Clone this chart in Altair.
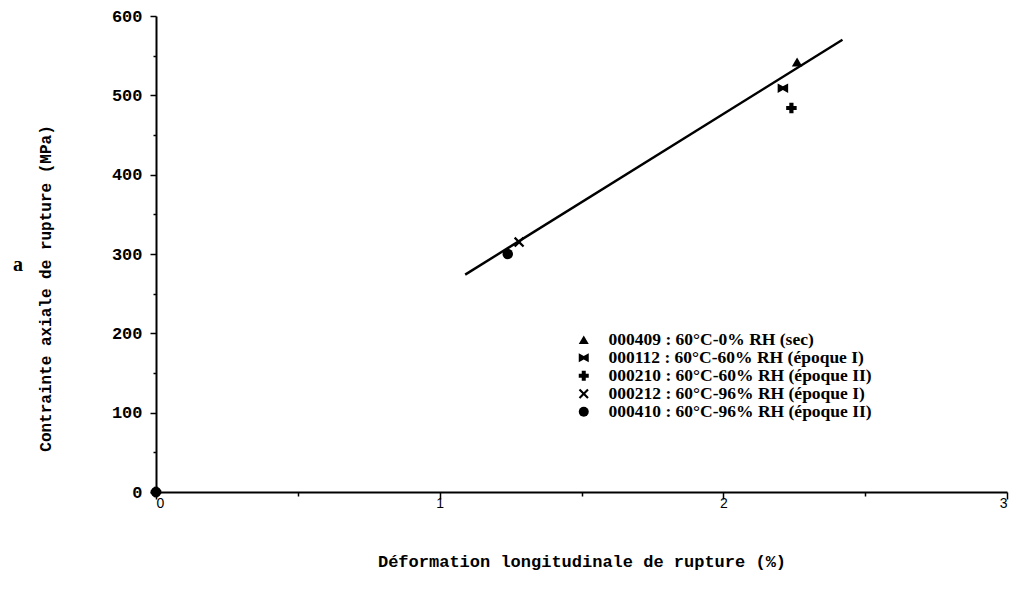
import altair as alt
import pandas as pd

# ---- data ----
series = [
    "000409 : 60°C-0% RH (sec)",
    "000112 : 60°C-60% RH (époque I)",
    "000210 : 60°C-60% RH (époque II)",
    "000212 : 60°C-96% RH (époque I)",
    "000410 : 60°C-96% RH (époque II)",
]
strain = [2.26, 2.21, 2.24, 1.28, 1.24]
stress = [542, 509, 484, 315, 300]

origin_series = ["000210 : 60°C-60% RH (époque II)", "000410 : 60°C-96% RH (époque II)"]
origin_strain = [0, 0]
origin_stress = [0, 0]

fit_strain = [1.09, 2.42]
fit_stress = [274, 570]

x_ticks = [0, 0.5, 1, 1.5, 2, 2.5, 3]
y_ticks = [0, 50, 100, 150, 200, 250, 300, 350, 400, 450, 500, 550, 600]

shapes = [
    "triangle-up",
    "M-1,-0.9L0,-0.35L1,-0.9L1,0.9L0,0.35L-1,0.9Z",
    "cross",
    "M-1,-0.7L-0.7,-1L0,-0.3L0.7,-1L1,-0.7L0.3,0L1,0.7L0.7,1L0,0.3L-0.7,1L-1,0.7L-0.3,0Z",
    "circle",
]

pts = pd.DataFrame({
    "series": series + origin_series,
    "strain": strain + origin_strain,
    "stress": stress + origin_stress,
})
fit = pd.DataFrame({"strain": fit_strain, "stress": fit_stress})

x_enc = alt.X(
    "strain:Q",
    scale=alt.Scale(domain=[0, 3], nice=False, zero=False),
    axis=alt.Axis(
        values=x_ticks,
        labelExpr="datum.value % 1 === 0 ? format(datum.value, 'd') : ''",
        tickSize={"condition": {"test": "datum.value % 1 !== 0", "value": 4}, "value": 7},
        labelFont="Liberation Sans",
        labelFontSize=14,
        labelPadding=-3,
        title="Déformation longitudinale de rupture (%)",
        titleFont="Liberation Mono",
        titleFontWeight="bold",
        titleFontSize=17,
        titlePadding=43,
    ),
)
y_enc = alt.Y(
    "stress:Q",
    scale=alt.Scale(domain=[0, 600], nice=False),
    axis=alt.Axis(
        values=y_ticks,
        labelExpr="datum.value % 100 === 0 ? datum.label : ''",
        tickSize={"condition": {"test": "datum.value % 100 !== 0", "value": 3}, "value": 6},
        labelFont="Liberation Mono",
        labelFontWeight="bold",
        labelFontSize=17,
        labelPadding=8,
        title="Contrainte axiale de rupture (MPa)",
        titleFont="Liberation Mono",
        titleFontWeight="bold",
        titleFontSize=16,
        titleAngle=270,
        titleX=-111,
        titleY=272,
        titleAlign="center",
        titleBaseline="middle",
    ),
)

points = alt.Chart(pts).mark_point(filled=True, opacity=1, color="black", size=110).encode(
    x=x_enc,
    y=y_enc,
    shape=alt.Shape(
        "series:N",
        scale=alt.Scale(domain=series, range=shapes),
        legend=alt.Legend(
            title=None,
            orient="none",
            legendX=419,
            legendY=315,
            labelFont="Liberation Serif",
            labelFontWeight="bold",
            labelFontSize=17.5,
            labelColor="black",
            symbolSize=100,
            symbolFillColor="black",
            symbolStrokeColor="black",
            symbolType="circle",
            rowPadding=-2,
            labelOffset=16,
            labelLimit=400,
        ),
    ),
)

line = alt.Chart(fit).mark_line(color="black", strokeWidth=2.4).encode(x=x_enc, y=y_enc)

annot = alt.Chart(pd.DataFrame({"t": ["a"]})).mark_text(
    font="Liberation Serif", fontWeight="bold", fontSize=20, color="black"
).encode(text="t:N", x=alt.value(-138), y=alt.value(249))

chart = (
    alt.layer(line, points, annot)
    .properties(
        width=851,
        height=476,
        autosize=alt.AutoSizeParams(type="none"),
        padding={"left": 148, "top": 8, "right": 4, "bottom": 84},
    )
    .configure_view(stroke=None)
    .configure_axis(
        grid=False,
        domainColor="black",
        domainWidth=2,
        tickColor="black",
        tickWidth=1.5,
        labelColor="black",
        titleColor="black",
    )
)

chart.save("out.html", embed_options={"renderer": "svg", "actions": False})
